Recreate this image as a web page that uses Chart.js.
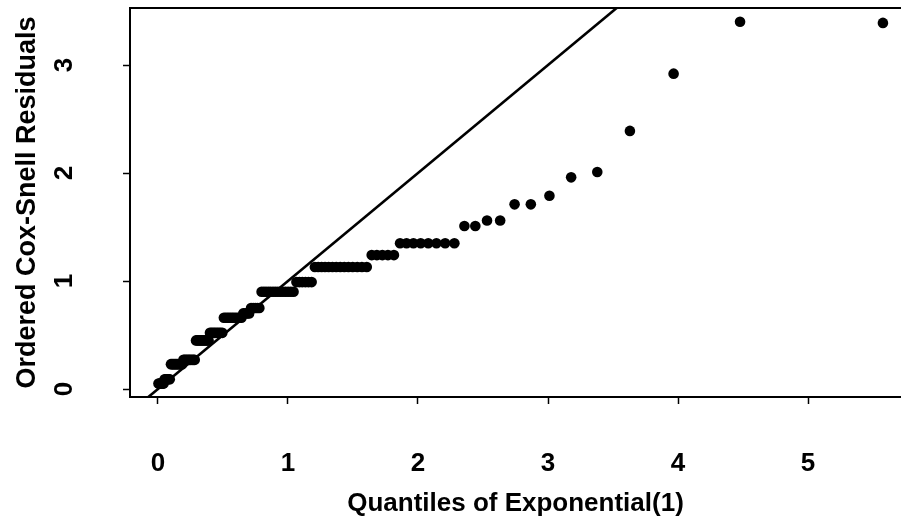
<!DOCTYPE html>
<html>
<head>
<meta charset="utf-8">
<title>Cox-Snell residual plot</title>
<script src="https://cdn.jsdelivr.net/npm/chart.js@4.4.1/dist/chart.umd.min.js"></script>
<style>
  html, body { margin: 0; padding: 0; background: #fff; }
  #residualPlot { display: block; }
</style>
</head>
<body>
<canvas id="residualPlot" width="901" height="525"></canvas>
<script>
// Exponential(1) quantiles for the 132 ordered observations
const expQuantiles = [
    0.004, 0.011, 0.019, 0.027, 0.035, 0.043, 0.051, 0.059, 0.067, 0.075,
    0.083, 0.091, 0.100, 0.108, 0.116, 0.125, 0.134, 0.142, 0.151, 0.160,
    0.169, 0.178, 0.187, 0.196, 0.205, 0.215, 0.224, 0.234, 0.243, 0.253,
    0.263, 0.273, 0.283, 0.293, 0.303, 0.313, 0.324, 0.334, 0.345, 0.356,
    0.367, 0.378, 0.389, 0.400, 0.411, 0.423, 0.434, 0.446, 0.458, 0.470,
    0.482, 0.495, 0.507, 0.520, 0.533, 0.546, 0.559, 0.572, 0.585, 0.599,
    0.613, 0.627, 0.642, 0.656, 0.671, 0.686, 0.701, 0.716, 0.732, 0.748,
    0.764, 0.780, 0.797, 0.814, 0.831, 0.849, 0.866, 0.885, 0.903, 0.922,
    0.941, 0.961, 0.981, 1.001, 1.022, 1.043, 1.065, 1.088, 1.110, 1.134,
    1.158, 1.182, 1.207, 1.232, 1.259, 1.285, 1.313, 1.342, 1.371, 1.402,
    1.433, 1.465, 1.498, 1.533, 1.569, 1.606, 1.644, 1.684, 1.726, 1.769,
    1.815, 1.862, 1.912, 1.965, 2.021, 2.079, 2.142, 2.209, 2.280, 2.357,
    2.441, 2.531, 2.632, 2.743, 2.868, 3.011, 3.178, 3.379, 3.630, 3.966,
    4.477, 5.576
];

// Ordered Cox-Snell residuals (lots of ties from censoring)
const coxSnell = [
    0.05, 0.05, 0.05, 0.05, 0.05, 0.05,
    0.09, 0.09, 0.09, 0.09, 0.09, 0.09,
    0.23, 0.23, 0.23, 0.23, 0.23, 0.23, 0.23, 0.23, 0.23, 0.23, 0.23,
    0.27, 0.27, 0.27, 0.27, 0.27, 0.27, 0.27, 0.27, 0.27, 0.27,
    0.45, 0.45, 0.45, 0.45, 0.45, 0.45, 0.45, 0.45, 0.45, 0.45,
    0.52, 0.52, 0.52, 0.52, 0.52, 0.52, 0.52, 0.52, 0.52,
    0.66, 0.66, 0.66, 0.66, 0.66, 0.66, 0.66, 0.66, 0.66, 0.66, 0.66,
    0.70, 0.70, 0.70, 0.70,
    0.75, 0.75, 0.75, 0.75, 0.75,
    0.90, 0.90, 0.90, 0.90, 0.90, 0.90, 0.90, 0.90, 0.90, 0.90, 0.90, 0.90, 0.90, 0.90,
    0.99, 0.99, 0.99, 0.99, 0.99, 0.99,
    1.13, 1.13, 1.13, 1.13, 1.13, 1.13, 1.13, 1.13, 1.13, 1.13, 1.13, 1.13, 1.13, 1.13,
    1.24, 1.24, 1.24, 1.24, 1.24,
    1.35, 1.35, 1.35, 1.35, 1.35, 1.35, 1.35, 1.35,
    1.51, 1.51, 1.56, 1.56, 1.71, 1.71, 1.79, 1.96, 2.01, 2.39, 2.92, 3.40, 3.39
];

const xTicks = [0, 1, 2, 3, 4, 5];
const yTicks = [0, 1, 2, 3];

// the 45 degree reference line y = x, ends get clipped by the plot box
const refLineEnds = [-0.3, 3.8];

const FONT = "'Liberation Sans', Arial, Helvetica, sans-serif";
const FONT_SIZE = 26;

const points = expQuantiles.map((q, i) => ({ x: q, y: coxSnell[i] }));
const refLine = refLineEnds.map(v => ({ x: v, y: v }));

// top edge of the box (the right edge falls off the canvas)
const boxTop = {
    id: 'boxTop',
    afterDraw(chart) {
        const { ctx, chartArea } = chart;
        ctx.save();
        ctx.strokeStyle = '#000';
        ctx.lineWidth = 2;
        ctx.beginPath();
        ctx.moveTo(chartArea.left - 1, chartArea.top);
        ctx.lineTo(chartArea.right, chartArea.top);
        ctx.stroke();
        ctx.restore();
    }
};

const axisGrid = {
    display: true,
    drawOnChartArea: false,
    drawTicks: true,
    tickLength: 7,
    tickWidth: 1.5,
    tickColor: '#000'
};

const ctx = document.getElementById('residualPlot').getContext('2d');
new Chart(ctx, {
    type: 'scatter',
    data: {
        datasets: [{
            data: points,
            backgroundColor: '#000',
            borderWidth: 0,
            pointRadius: 5.3,
            pointHoverRadius: 5.3
        }, {
            type: 'line',
            data: refLine,
            borderColor: '#000',
            borderWidth: 2.6,
            pointRadius: 0,
            fill: false
        }]
    },
    options: {
        responsive: false,
        animation: false,
        events: [],
        layout: {
            autoPadding: false,
            padding: { top: 8, right: 0, left: 0, bottom: 0 }
        },
        plugins: {
            legend: { display: false },
            tooltip: { enabled: false }
        },
        scales: {
            x: {
                type: 'linear',
                min: -0.215,
                max: 5.715,
                afterFit: (scale) => {
                    scale.height = 128;
                    scale.paddingLeft = 0;
                    scale.paddingRight = 0;
                },
                afterBuildTicks: (scale) => { scale.ticks = xTicks.map(v => ({ value: v })); },
                border: { display: true, color: '#000', width: 2 },
                grid: axisGrid,
                ticks: {
                    color: '#000',
                    padding: 44,
                    maxRotation: 0,
                    font: { family: FONT, size: FONT_SIZE, weight: 'bold' }
                },
                title: {
                    display: true,
                    text: 'Quantiles of Exponential(1)',
                    color: '#000',
                    padding: { top: 0, bottom: 6 },
                    font: { family: FONT, size: FONT_SIZE, weight: 'bold' }
                }
            },
            y: {
                type: 'linear',
                min: -0.074,
                max: 3.528,
                afterFit: (scale) => {
                    scale.width = 130;
                    scale.paddingTop = 0;
                    scale.paddingBottom = 0;
                },
                afterBuildTicks: (scale) => { scale.ticks = yTicks.map(v => ({ value: v })); },
                border: { display: true, color: '#000', width: 2 },
                grid: axisGrid,
                ticks: {
                    color: '#000',
                    padding: 51,
                    minRotation: 90,
                    maxRotation: 90,
                    crossAlign: 'center',
                    font: { family: FONT, size: FONT_SIZE, weight: 'bold' }
                },
                title: {
                    display: true,
                    text: 'Ordered Cox-Snell Residuals',
                    color: '#000',
                    padding: { top: 11, bottom: 0 },
                    font: { family: FONT, size: 27, weight: 'bold' }
                }
            }
        }
    },
    plugins: [boxTop]
});
</script>
</body>
</html>
